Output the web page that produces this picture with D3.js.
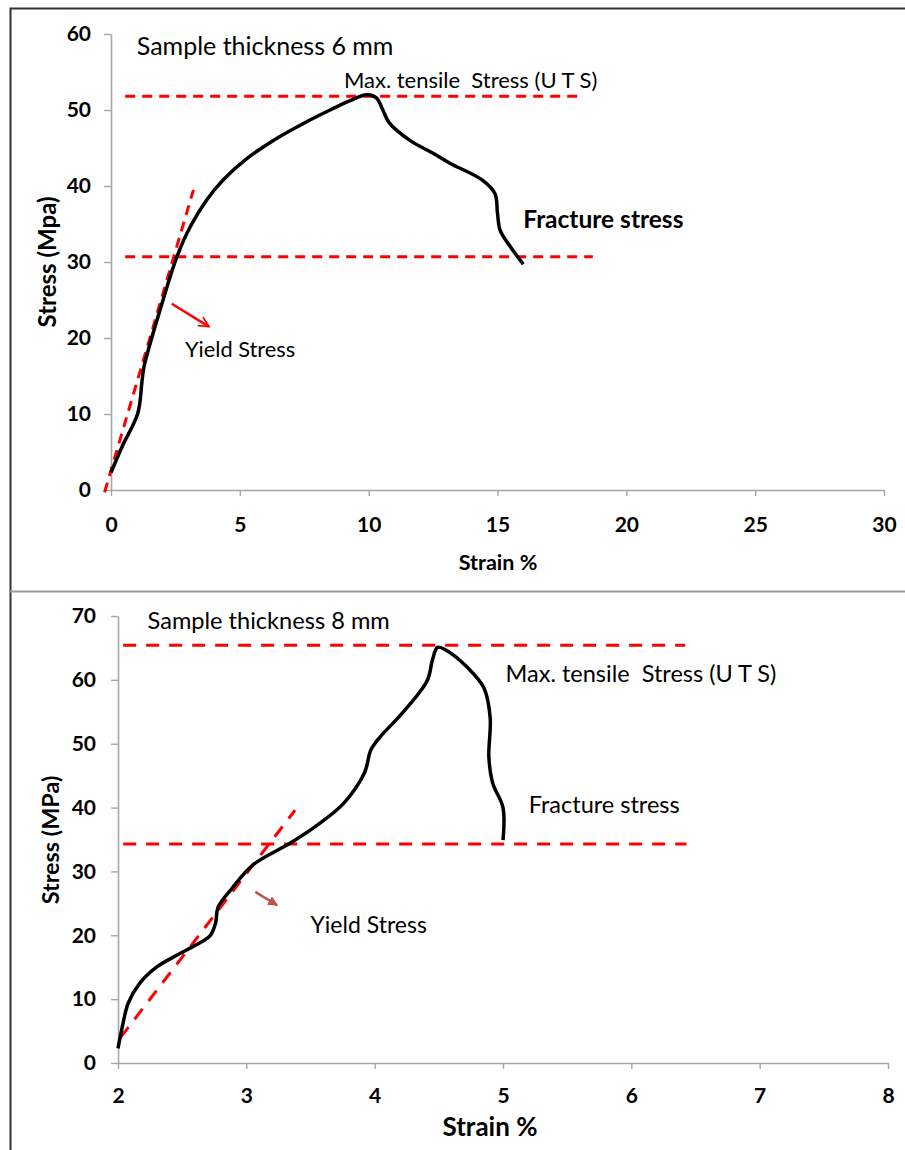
<!DOCTYPE html>
<html>
<head>
<meta charset="utf-8">
<script src="https://cdn.jsdelivr.net/npm/d3@7"></script>
<style>
    body { margin: 0; background: #fff; }
    svg text { font-family: Lato, "Open Sans", sans-serif; fill: #000; }
</style>
</head>
<body>
<div id="chart"></div>
<script>
// values (strain %, stress MPa)
var strain6 = [0, 0.43, 1.04, 1.2, 1.28, 2.02, 2.56, 3.07, 3.72, 4.35, 5.27, 6.3, 7.45, 8.5, 9.26, 9.92, 10.3, 10.55, 10.8, 11.6, 12.5, 13.15, 14.4, 14.9, 15.0, 15.1, 15.5, 16.0];
var stress6 = [2.3, 5.7, 10.1, 14.2, 16.2, 25.0, 30.7, 34.6, 38.2, 40.8, 43.6, 46.0, 48.2, 50.0, 51.2, 52.0, 51.6, 50.0, 48.3, 46.0, 44.3, 43.0, 40.8, 39.0, 36.4, 34.2, 32.0, 29.7];

var strain8 = [2.0, 2.04, 2.08, 2.17, 2.30, 2.46, 2.61, 2.72, 2.76, 2.78, 2.89, 3.05, 3.34, 3.55, 3.76, 3.92, 3.97, 4.04, 4.22, 4.41, 4.45, 4.49, 4.56, 4.72, 4.85, 4.9, 4.89, 4.92, 5.0, 5.0];
var stress8 = [2.3, 6.3, 9.4, 12.5, 15.0, 16.9, 18.5, 20.0, 21.9, 24.4, 27.4, 31.0, 34.4, 37.2, 40.7, 45.4, 49.0, 51.0, 54.9, 59.9, 63.1, 65.1, 64.6, 62.0, 58.8, 54.1, 47.9, 43.8, 40.0, 34.9];

// dashed guide lines [x, y]
var uts6 = [[0.55, 51.8], [18.2, 51.8]];
var fracture6 = [[0.55, 30.7], [18.7, 30.7]];
var yield6 = [[-0.25, -0.3], [3.2, 39.5]];
var arrow6 = [[2.36, 24.5], [3.8, 21.5]];

var uts8 = [[2.04, 65.4], [6.42, 65.4]];
var fracture8 = [[2.04, 34.3], [6.43, 34.3]];
var yield8 = [[2.02, 4.0], [3.38, 39.6]];
var arrow8 = [[3.07, 26.8], [3.24, 24.7]];

// tick labels
var xTicks6 = [0, 5, 10, 15, 20, 25, 30];
var yTicks6 = [0, 10, 20, 30, 40, 50, 60];
var xTicks8 = [2, 3, 4, 5, 6, 7, 8];
var yTicks8 = [0, 10, 20, 30, 40, 50, 60, 70];

var svg = d3.select("#chart")
    .append("svg")
    .attr("width", 905)
    .attr("height", 1150);

// arrow heads
var defs = svg.append("defs");
defs.append("marker")
    .attr("id", "headRed")
    .attr("viewBox", "0 0 10 10")
    .attr("refX", 9).attr("refY", 5)
    .attr("markerWidth", 5).attr("markerHeight", 5)
    .attr("markerUnits", "strokeWidth")
    .attr("orient", "auto")
    .append("path")
    .attr("d", "M1,1 L9,5 L1,9")
    .attr("fill", "none")
    .attr("stroke", "#ff0000")
    .attr("stroke-width", 1.4);
defs.append("marker")
    .attr("id", "headBrown")
    .attr("viewBox", "0 0 10 10")
    .attr("refX", 9).attr("refY", 5)
    .attr("markerWidth", 4).attr("markerHeight", 4)
    .attr("markerUnits", "strokeWidth")
    .attr("orient", "auto")
    .append("path")
    .attr("d", "M0,0 L10,5 L0,10 Z")
    .attr("fill", "#c0504d");

// panel frames
svg.append("path")
    .attr("d", "M10.5,1150 V8.5 H905")
    .attr("fill", "none")
    .attr("stroke", "#333")
    .attr("stroke-width", 2);
svg.append("line")
    .attr("x1", 10).attr("x2", 905)
    .attr("y1", 591.5).attr("y2", 591.5)
    .attr("stroke", "#999")
    .attr("stroke-width", 2);

function drawPanel(opt) {
    var x = d3.scaleLinear().domain(opt.xDomain).range(opt.xRange);
    var y = d3.scaleLinear().domain(opt.yDomain).range(opt.yRange);
    var g = svg.append("g");

    // axes
    var xAxis = g.append("g")
        .attr("transform", `translate(0, ${opt.yRange[0]})`)
        .call(d3.axisBottom(x).tickValues(opt.xTicks).tickSize(6).tickSizeOuter(0).tickFormat(d3.format("d")));
    var yAxis = g.append("g")
        .attr("transform", `translate(${opt.xRange[0]}, 0)`)
        .call(d3.axisLeft(y).tickValues(opt.yTicks).tickSize(7).tickSizeOuter(0).tickFormat(d3.format("d")));

    [xAxis, yAxis].forEach(function(a) {
        a.select(".domain").attr("stroke", "#a6a6a6").attr("stroke-width", 1.6);
        a.selectAll(".tick line").attr("stroke", "#a6a6a6").attr("stroke-width", 1.4);
        a.selectAll("text")
            .attr("fill", "#000")
            .style("font-family", "Lato, sans-serif")
            .style("font-weight", "bold")
            .style("font-size", opt.tickFont + "px");
    });
    xAxis.selectAll("text").attr("y", opt.xLabelBase).attr("dy", 0);
    yAxis.selectAll("text").attr("x", -opt.yLabelGap);

    // axis titles
    g.append("text")
        .attr("transform", `translate(${opt.yTitlePos[0]}, ${opt.yTitlePos[1]}) rotate(-90)`)
        .attr("text-anchor", "middle")
        .attr("dy", "0.35em")
        .style("font-weight", "bold")
        .style("font-size", opt.yTitleFont + "px")
        .text(opt.yTitle);
    g.append("text")
        .attr("x", opt.xTitlePos[0])
        .attr("y", opt.xTitlePos[1])
        .attr("text-anchor", "middle")
        .attr("dy", "0.35em")
        .style("font-weight", "bold")
        .style("font-size", opt.xTitleFont + "px")
        .text("Strain %");

    var line = d3.line()
        .x(d => x(d[0]))
        .y(d => y(d[1]));

    // dashed guide lines
    [opt.uts, opt.fracture, opt.yieldLine].forEach(function(seg) {
        g.append("path")
            .attr("d", line(seg))
            .attr("fill", "none")
            .attr("stroke", "#ff0000")
            .attr("stroke-width", 3)
            .attr("stroke-dasharray", opt.dash);
    });

    // stress strain curve
    var pts = opt.strain.map((s, i) => [s, opt.stress[i]]);
    g.append("path")
        .attr("d", line.curve(d3.curveCatmullRom.alpha(0.5))(pts))
        .attr("fill", "none")
        .attr("stroke", "#000")
        .attr("stroke-width", 3.5)
        .attr("stroke-linecap", "butt");

    // yield arrow
    g.append("path")
        .attr("d", d3.line().x(d => x(d[0])).y(d => y(d[1]))(opt.arrow))
        .attr("fill", "none")
        .attr("stroke", opt.arrowColor)
        .attr("stroke-width", opt.arrowWidth)
        .attr("marker-end", opt.arrowHead);

    // annotations
    opt.notes.forEach(function(n) {
        g.append("text")
            .attr("x", x(n.x))
            .attr("y", y(n.y))
            .style("font-size", n.size + "px")
            .style("font-weight", n.bold ? "bold" : "normal")
            .style("white-space", "pre")
            .text(n.text);
    });
}

drawPanel({
    xDomain: [0, 30], xRange: [111, 884],
    yDomain: [0, 60], yRange: [490, 34],
    xTicks: xTicks6, yTicks: yTicks6,
    tickFont: 21, xLabelBase: 42, yLabelGap: 20,
    yTitle: "Stress (Mpa)", yTitlePos: [48, 262], yTitleFont: 24,
    xTitlePos: [498, 562], xTitleFont: 21.5,
    strain: strain6, stress: stress6,
    uts: uts6, fracture: fracture6, yieldLine: yield6,
    dash: "10,7",
    arrow: arrow6, arrowColor: "#ff0000", arrowWidth: 2.5, arrowHead: "url(#headRed)",
    notes: [
        { text: "Sample thickness 6 mm", x: 1.0, y: 57.2, size: 25, bold: false },
        { text: "Max. tensile  Stress (U T S)", x: 9.04, y: 52.9, size: 22, bold: false },
        { text: "Fracture stress", x: 16.0, y: 34.5, size: 24.5, bold: true },
        { text: "Yield Stress", x: 2.87, y: 17.5, size: 21.8, bold: false }
    ]
});

drawPanel({
    xDomain: [2, 8], xRange: [118, 888],
    yDomain: [0, 70], yRange: [1063, 616],
    xTicks: xTicks8, yTicks: yTicks8,
    tickFont: 21, xLabelBase: 40, yLabelGap: 22,
    yTitle: "Stress (MPa)", yTitlePos: [51, 840], yTitleFont: 23.4,
    xTitlePos: [490, 1127], xTitleFont: 26,
    strain: strain8, stress: stress8,
    uts: uts8, fracture: fracture8, yieldLine: yield8,
    dash: "13,10",
    arrow: arrow8, arrowColor: "#c0504d", arrowWidth: 2.5, arrowHead: "url(#headBrown)",
    notes: [
        { text: "Sample thickness 8 mm", x: 2.23, y: 67.9, size: 23.6, bold: false },
        { text: "Max. tensile  Stress (U T S)", x: 5.02, y: 59.6, size: 23.5, bold: false },
        { text: "Fracture stress", x: 5.2, y: 39.1, size: 23.5, bold: false },
        { text: "Yield Stress", x: 3.5, y: 20.3, size: 23, bold: false }
    ]
});
</script>
</body>
</html>
